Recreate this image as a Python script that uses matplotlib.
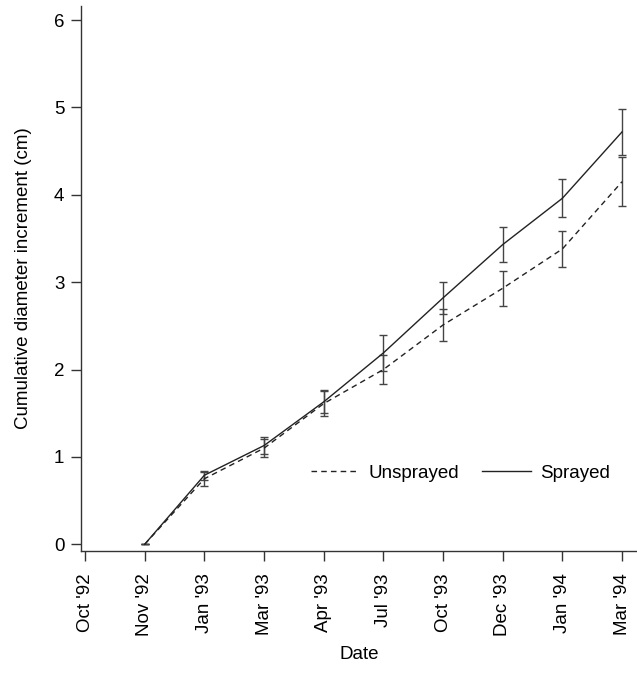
import matplotlib
matplotlib.use("Agg")
import matplotlib.pyplot as plt

plt.rcParams['font.family'] = ['Liberation Sans', 'DejaVu Sans']

# Sampling dates (equally spaced on the axis)
dates = ["Oct '92", "Nov '92", "Jan '93", "Mar '93", "Apr '93",
         "Jul '93", "Oct '93", "Dec '93", "Jan '94", "Mar '94"]

# Measurements start at Nov '92 (index 1)
unsprayed = [0.0, 0.75, 1.10, 1.61, 2.00, 2.51, 2.93, 3.38, 4.15]
unsprayed_err = [0.0, 0.08, 0.10, 0.14, 0.17, 0.18, 0.20, 0.21, 0.28]
sprayed = [0.0, 0.79, 1.13, 1.63, 2.19, 2.82, 3.43, 3.96, 4.72]
sprayed_err = [0.0, 0.05, 0.10, 0.13, 0.21, 0.18, 0.20, 0.22, 0.26]

x_all = list(range(len(dates)))
x_data = x_all[1:]

fig = plt.figure(figsize=(6.37, 6.77), dpi=100)
ax = fig.add_axes([0.1272, 0.1861, 0.8728, 0.805])

line_col = "#222222"
ax.errorbar(x_data, unsprayed, yerr=unsprayed_err, color=line_col, lw=1.0,
            dashes=(4, 3), capsize=3, elinewidth=1.0, ecolor="#444444",
            label="Unsprayed")
ax.errorbar(x_data, sprayed, yerr=sprayed_err, color=line_col, lw=1.0,
            capsize=3, elinewidth=1.0, ecolor="#444444", label="Sprayed")

fs = 13.5
ax.set_xlim(-0.067, 9.25)
ax.set_ylim(-0.077, 6.16)
ax.set_xticks(x_all)
ax.set_xticklabels(dates, rotation=90, fontsize=fs)
ax.set_yticks(range(0, 7))
ax.tick_params(axis='y', labelsize=fs, length=7, width=1.0, pad=5,
               color="#333333")
ax.tick_params(axis='x', length=7, width=1.0, pad=9, color="#333333")

for side in ["top", "right"]:
    ax.spines[side].set_visible(False)
for side in ["left", "bottom"]:
    ax.spines[side].set_linewidth(1.0)
    ax.spines[side].set_color("#333333")

ax.set_ylabel("Cumulative diameter increment (cm)", fontsize=fs, labelpad=15.5)
ax.set_xlabel("Date", fontsize=fs, labelpad=7)

# legend without error bar glyphs
handles, labels = ax.get_legend_handles_labels()
handles = [h[0] for h in handles]
ax.legend(handles, labels, ncol=2, frameon=False, fontsize=fs,
          handlelength=2.6, columnspacing=1.2, handletextpad=0.5,
          loc="center", bbox_to_anchor=(0.682, 0.143))

fig.savefig("out.png", dpi=100)
